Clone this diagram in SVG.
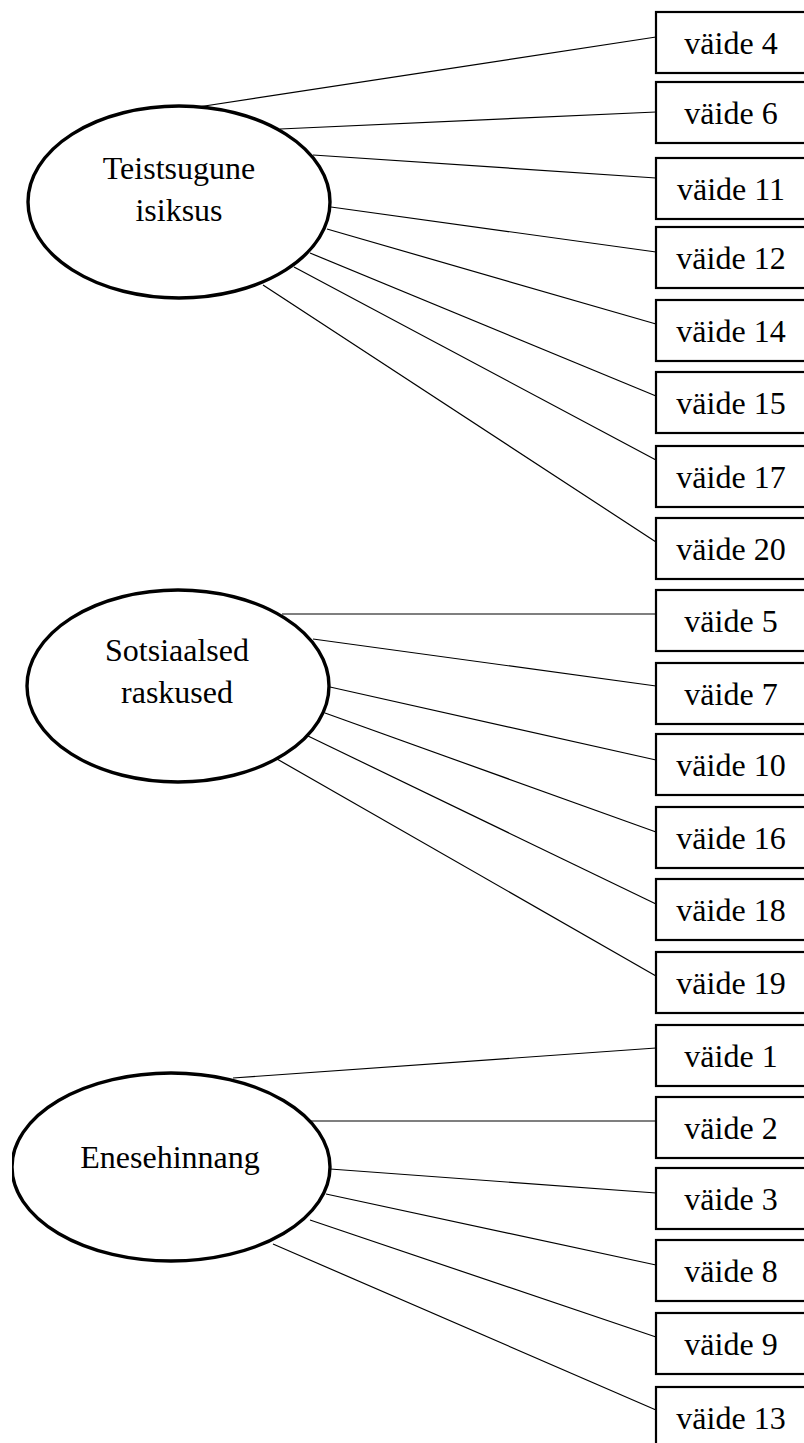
<svg xmlns="http://www.w3.org/2000/svg" width="804" height="1443" viewBox="0 0 804 1443">
<style>
.bg{fill:#fff}
.box{fill:#fff;stroke:#000;stroke-width:2.2}
.ell{fill:#fff;stroke:#000;stroke-width:3.4}
.lbl{font-family:"Liberation Serif","Times New Roman",serif;font-size:32px;fill:#000;text-anchor:middle}
.con line{stroke:#000;stroke-width:1.2}
</style>
<defs>
<clipPath id="clipL"><rect x="12" y="0" width="800" height="1443"/></clipPath>
</defs>
<rect class="bg" x="0" y="0" width="804" height="1443"/>
<g id="connectors" class="con">
<line x1="198" y1="107" x2="656" y2="37"/>
<line x1="280" y1="129" x2="656" y2="112"/>
<line x1="313" y1="155" x2="656" y2="178"/>
<line x1="331" y1="207" x2="656" y2="252"/>
<line x1="327" y1="229" x2="656" y2="324"/>
<line x1="310" y1="253" x2="656" y2="396"/>
<line x1="294" y1="267" x2="656" y2="460"/>
<line x1="263" y1="285" x2="656" y2="542"/>
<line x1="282" y1="614" x2="656" y2="614"/>
<line x1="313" y1="639" x2="656" y2="686"/>
<line x1="330" y1="687" x2="656" y2="760"/>
<line x1="325" y1="713" x2="656" y2="832"/>
<line x1="308" y1="736" x2="656" y2="904"/>
<line x1="277" y1="759" x2="656" y2="976"/>
<line x1="233" y1="1078" x2="656" y2="1048"/>
<line x1="310" y1="1121" x2="656" y2="1121"/>
<line x1="330" y1="1169" x2="656" y2="1193"/>
<line x1="326" y1="1194" x2="656" y2="1265"/>
<line x1="310" y1="1220" x2="656" y2="1337"/>
<line x1="273" y1="1244" x2="656" y2="1410"/>
</g>
<g id="f1">
<ellipse class="ell" cx="179" cy="202" rx="151" ry="96"/>
<text class="lbl" x="179" y="179">Teistsugune</text>
<text class="lbl" x="179" y="221">isiksus</text>
</g>
<g id="f2">
<ellipse class="ell" cx="178" cy="686" rx="151" ry="96"/>
<text class="lbl" x="177" y="661">Sotsiaalsed</text>
<text class="lbl" x="177" y="703">raskused</text>
</g>
<g id="f3">
<ellipse class="ell" cx="171" cy="1167" rx="159" ry="94" clip-path="url(#clipL)"/>
<text class="lbl" x="170" y="1168">Enesehinnang</text>
</g>
<g id="v4"><rect class="box" x="656" y="12" width="160" height="61"/><text class="lbl" x="731" y="54">väide 4</text></g>
<g id="v6"><rect class="box" x="656" y="82" width="160" height="61"/><text class="lbl" x="731" y="124">väide 6</text></g>
<g id="v11"><rect class="box" x="656" y="158" width="160" height="61"/><text class="lbl" x="731" y="200">väide 11</text></g>
<g id="v12"><rect class="box" x="656" y="227" width="160" height="61"/><text class="lbl" x="731" y="269">väide 12</text></g>
<g id="v14"><rect class="box" x="656" y="300" width="160" height="61"/><text class="lbl" x="731" y="342">väide 14</text></g>
<g id="v15"><rect class="box" x="656" y="372" width="160" height="61"/><text class="lbl" x="731" y="414">väide 15</text></g>
<g id="v17"><rect class="box" x="656" y="446" width="160" height="61"/><text class="lbl" x="731" y="488">väide 17</text></g>
<g id="v20"><rect class="box" x="656" y="518" width="160" height="61"/><text class="lbl" x="731" y="560">väide 20</text></g>
<g id="v5"><rect class="box" x="656" y="590" width="160" height="61"/><text class="lbl" x="731" y="632">väide 5</text></g>
<g id="v7"><rect class="box" x="656" y="663" width="160" height="61"/><text class="lbl" x="731" y="705">väide 7</text></g>
<g id="v10"><rect class="box" x="656" y="734" width="160" height="61"/><text class="lbl" x="731" y="776">väide 10</text></g>
<g id="v16"><rect class="box" x="656" y="807" width="160" height="61"/><text class="lbl" x="731" y="849">väide 16</text></g>
<g id="v18"><rect class="box" x="656" y="879" width="160" height="61"/><text class="lbl" x="731" y="921">väide 18</text></g>
<g id="v19"><rect class="box" x="656" y="952" width="160" height="61"/><text class="lbl" x="731" y="994">väide 19</text></g>
<g id="v1"><rect class="box" x="656" y="1025" width="160" height="61"/><text class="lbl" x="731" y="1067">väide 1</text></g>
<g id="v2"><rect class="box" x="656" y="1097" width="160" height="61"/><text class="lbl" x="731" y="1139">väide 2</text></g>
<g id="v3"><rect class="box" x="656" y="1168" width="160" height="61"/><text class="lbl" x="731" y="1210">väide 3</text></g>
<g id="v8"><rect class="box" x="656" y="1240" width="160" height="61"/><text class="lbl" x="731" y="1282">väide 8</text></g>
<g id="v9"><rect class="box" x="656" y="1313" width="160" height="61"/><text class="lbl" x="731" y="1355">väide 9</text></g>
<g id="v13"><rect class="box" x="656" y="1387" width="160" height="61"/><text class="lbl" x="731" y="1429">väide 13</text></g>
</svg>
